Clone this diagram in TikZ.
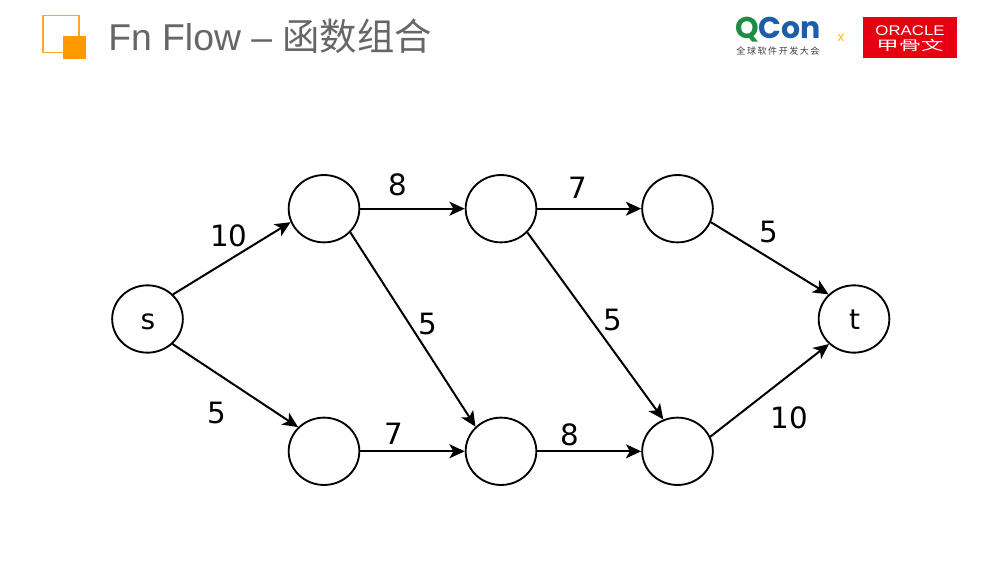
\documentclass[tikz,border=0pt]{standalone}
\usepackage{fontspec}
\setmainfont{DejaVu Sans}
\newfontfamily\titlefont{Liberation Sans}
\newfontfamily\cjk{Noto Sans CJK SC}
\newfontfamily\logofont{Liberation Sans}
\newfontfamily\qconfont{Poppins}
\usetikzlibrary{arrows.meta,shapes.geometric}
\definecolor{accent}{HTML}{FF9900}
\definecolor{titlegrey}{HTML}{666666}
\definecolor{qgreen}{HTML}{1E8C45}
\definecolor{qblue}{HTML}{1C5FA8}
\definecolor{ored}{HTML}{E60012}
\tikzset{
  vertex/.style={draw=black,line width=1.4pt,ellipse,minimum width=53pt,minimum height=50.5pt,inner sep=0pt},
  vlabel/.style={font=\fontsize{21}{24}\selectfont,inner sep=0pt},
  edge/.style={line width=1.5pt,-{Stealth[length=11.5pt,width=10.5pt,inset=3pt]}},
  weight/.style={font=\fontsize{22}{24}\selectfont,inner sep=0pt}
}
\begin{document}
\begin{tikzpicture}[x=0.75pt,y=-0.75pt]
\useasboundingbox (0,0) rectangle (1000,563);
\fill[white] (0,0) rectangle (1000,563);
% header
\draw[accent!85!white,line width=1.3pt] (43,15.5) rectangle (79,52.5);
\fill[accent] (63,36) rectangle (86,59);
\node[anchor=west,inner sep=0pt,text=titlegrey,font=\fontsize{28}{30}\selectfont\titlefont] (title) at (108,36) {Fn Flow – {\cjk 函数组合}};
\node[anchor=center,inner sep=0pt,font=\fontsize{22.5}{24}\selectfont\qconfont\bfseries] (qcon) at (778,29.5) {\textcolor{qgreen}{Q}\textcolor{qblue}{Con}};
\node[anchor=center,inner sep=0pt,font=\fontsize{6.8}{8}\selectfont\cjk,text=black!75] (qsub) at (778,51.5) {全\,球\,软\,件\,开\,发\,大\,会};
\node[inner sep=0pt,text=accent!70!yellow,font=\fontsize{10}{10}\selectfont\logofont] (x) at (841,37.5) {x};
\node[fill=ored,minimum width=70.5pt,minimum height=30.5pt,inner sep=0pt] (orbox) at (910,37.5) {};
\node[text=white,inner sep=0pt,font=\fontsize{10.5}{12}\selectfont\logofont] (ortext) at (910,31) {\scalebox{1.2}[1]{ORACLE}};
\node[text=white,inner sep=0pt,font=\fontsize{10.5}{12}\selectfont\cjk] (orcn) at (910,45) {\scalebox{1.6}[0.95]{甲骨文}};
% nodes
\node[vertex] (s) at (147.5,319) {};
\node[vertex] (a1) at (324,208.7) {};
\node[vertex] (a2) at (501,208.7) {};
\node[vertex] (a3) at (677.5,208.7) {};
\node[vertex] (t) at (854,319) {};
\node[vertex] (b1) at (324,451.3) {};
\node[vertex] (b2) at (501,451.3) {};
\node[vertex] (b3) at (677.5,451.3) {};
\node[vlabel] (slabel) at (148,321.5) {s};
\node[vlabel] (tlabel) at (854.5,319.5) {t};
% edges
\draw[edge] (s.44) -- (a1.202);
\draw[edge] (s.-45) -- (b1.137);
\draw[edge] (a1) -- (a2);
\draw[edge] (a2) -- (a3);
\draw[edge] (a1.-42) -- (b2.136);
\draw[edge] (a2.-42) -- (b3.114.5);
\draw[edge] (b1) -- (b2);
\draw[edge] (b2) -- (b3);
\draw[edge] (a3.-22) -- (t.136);
\draw[edge] (b3.24) -- (t.225);
% weights
\node[weight] (w1) at (229,236) {10};
\node[weight] (w2) at (216.5,413) {5};
\node[weight] (w3) at (398,184.5) {8};
\node[weight] (w4) at (577.5,187.5) {7};
\node[weight] (w5) at (768.5,232) {5};
\node[weight] (w6) at (427.5,324) {5};
\node[weight] (w7) at (613,320.5) {5};
\node[weight] (w8) at (393.5,433.5) {7};
\node[weight] (w9) at (570,434.5) {8};
\node[weight] (w10) at (789,417.5) {10};
\end{tikzpicture}
\end{document}
